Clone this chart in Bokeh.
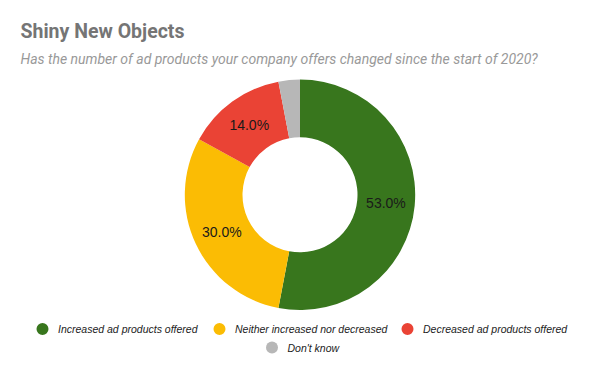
import math
from bokeh.plotting import figure
from bokeh.models import Range1d, ColumnDataSource
from bokeh.core.properties import value
from bokeh.embed import file_html
from bokeh.resources import INLINE

title = "Shiny New Objects"
subtitle = "Has the number of ad products your company offers changed since the start of 2020?"
categories = ["Increased ad products offered", "Neither increased nor decreased",
              "Decreased ad products offered", "Don't know"]
values = [53.0, 30.0, 14.0, 3.0]
colors = ["#38761d", "#fbbc04", "#ea4335", "#b7b7b7"]

W, H = 584, 355
PH = 371  # page height; data y = PH - page y

p = figure(width=W, height=H, output_backend="svg", toolbar_location=None,
           x_range=Range1d(0, W), y_range=Range1d(PH - H, PH),
           x_axis_location=None, y_axis_location=None, min_border=0)
p.grid.visible = False
p.outline_line_color = None
p.background_fill_color = "white"

cx, cy = 299.5, PH - 194.3
r_out, r_in = 115.2, 57.5
total = sum(values)
starts, ends, lx, ly, labels = [], [], [], [], []
cum = 0.0
for v in values:
    a0 = math.pi / 2 - 2 * math.pi * cum / total
    cum += v
    a1 = math.pi / 2 - 2 * math.pi * cum / total
    starts.append(a0)
    ends.append(a1)
    mid = (a0 + a1) / 2
    rm = (r_out + r_in) / 2
    lx.append(cx + rm * math.cos(mid))
    ly.append(cy + rm * math.sin(mid))
    labels.append(f"{v:.1f}%")

src = ColumnDataSource(dict(start=starts, end=ends, color=colors))
p.annular_wedge(x=cx, y=cy, inner_radius=r_in, outer_radius=r_out,
                start_angle="start", end_angle="end", direction="clock",
                fill_color="color", line_color=None, source=src)

lab_src = ColumnDataSource(dict(x=lx[:3], y=ly[:3], t=labels[:3]))
p.text(x="x", y="y", text="t", source=lab_src, text_align="center",
       text_baseline="middle", text_font=value("Liberation Sans"),
       text_font_size="14px", text_color="#1a1a1a")

p.text(x=[20], y=[PH - 31.2], text=[title], text_font=value("Roboto"),
       text_font_style="bold", text_font_size="19.5px",
       text_color="#757575", text_baseline="middle", text_align="left")
p.text(x=[20], y=[PH - 58.5], text=[subtitle], text_font=value("Roboto"),
       text_font_style="italic", text_font_size="14px",
       text_color="#999999", text_baseline="middle", text_align="left")

# legend
leg_x = [42, 219, 407, 271.5]
leg_y = [PH - 328.5, PH - 328.5, PH - 328.5, PH - 347]
p.scatter(x=leg_x, y=leg_y, size=12, marker="circle", fill_color=colors, line_color=None)
leg_src = ColumnDataSource(dict(x=[v + 15.5 for v in leg_x], y=leg_y, t=categories))
p.text(x="x", y="y", text="t", source=leg_src, text_align="left",
       text_baseline="middle", text_font=value("Liberation Sans"),
       text_font_style="italic", text_font_size="10.5px", text_color="#222222")

open("out.html", "w").write(file_html(p, INLINE))
